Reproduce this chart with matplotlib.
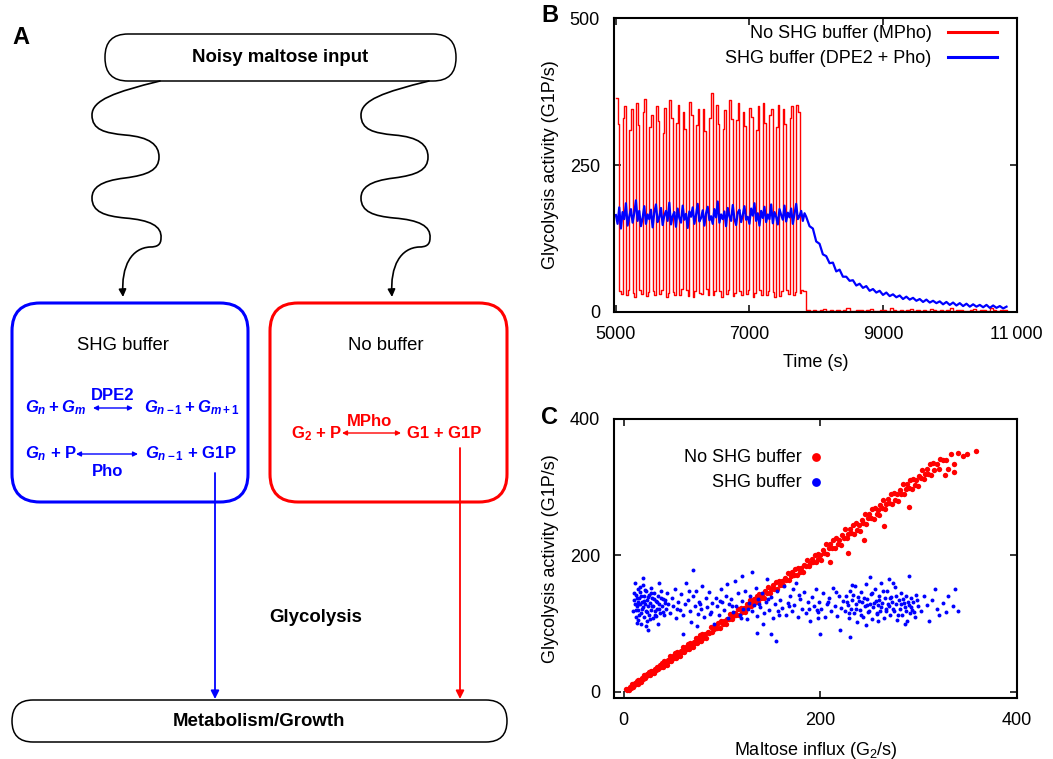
import numpy as np
import matplotlib
matplotlib.use('Agg')
import matplotlib.pyplot as plt
from matplotlib.patches import FancyBboxPatch, FancyArrowPatch
from matplotlib.path import Path

plt.rcParams['font.family'] = ['Liberation Sans', 'DejaVu Sans']
plt.rcParams['mathtext.fontset'] = 'custom'
plt.rcParams['mathtext.it'] = 'Liberation Sans:italic:bold'
plt.rcParams['mathtext.rm'] = 'Liberation Sans:bold'
plt.rcParams['mathtext.bf'] = 'Liberation Sans:bold'

# ---------------- panel B data ----------------
# red: 28 cycles of 100 s, sampled every 25 s (hi, hi, lo, lo)
red_cycles = [365, 320, 35, 30,  330, 350, 28, 38,  310, 345, 32, 26,  355, 318, 38, 30,
              340, 362, 27, 34,  315, 336, 36, 29,  350, 325, 30, 37,  305, 348, 25, 33,
              360, 330, 34, 28,  322, 352, 29, 39,  340, 312, 37, 27,  358, 335, 26, 35,
              318, 346, 33, 30,  345, 308, 39, 28,  330, 372, 28, 36,  352, 320, 35, 26,
              312, 344, 30, 38,  360, 328, 27, 32,  326, 355, 36, 29,  340, 316, 31, 37,
              348, 332, 25, 33,  310, 350, 38, 28,  356, 322, 29, 35,  335, 345, 34, 26,
              315, 352, 27, 36,  346, 320, 37, 30,  330, 350, 28, 34,  352, 340, 33, 37,
              35, 36]
red_tail = [3, 2, 4, 1, 3, 5, 2, 3, 1, 4, 2, 3, 6, 2, 1, 3, 4, 2, 3, 5,
            1, 2, 4, 3, 2, 6, 3, 1, 4, 2, 3, 5, 2, 4, 1, 3, 2, 5, 3, 2,
            4, 1, 3, 6, 2, 3, 4, 2, 1, 3, 5, 2, 3, 4, 2, 6, 3, 2, 4, 3, 2]
blue_plateau = [165, 150, 178, 142, 170, 158, 185, 147, 162, 175, 152, 168, 190, 155, 172, 146, 160, 180, 150, 166,
                158, 174, 144, 169, 183, 153, 161, 177, 148, 164, 172, 155, 186, 149, 163, 170, 145, 176, 160, 152,
                181, 157, 167, 143, 171, 162, 178, 150, 165, 184, 154, 160, 173, 147, 168, 179, 156, 163, 150, 175,
                161, 188, 152, 166, 158, 171, 146, 177, 163, 155, 182, 159, 148, 169, 174, 153, 165, 180, 157, 162,
                150, 176, 164, 185, 155, 168, 147, 172, 160, 179, 153, 166, 158, 183, 151, 170, 162, 149, 175, 165,
                157, 181, 154, 169, 161, 176, 150, 167, 184, 158, 163, 172, 155, 168]
blue_decay = [162, 146, 142, 120, 116, 98, 95, 83, 84, 69, 72, 60, 60, 53, 54, 45, 48, 41, 44, 36,
              39, 33, 36, 29, 33, 27, 30, 25, 28, 22, 26, 21, 24, 19, 22, 17, 21, 16, 19, 15,
              18, 13, 17, 12, 16, 11, 15, 10, 14, 9, 13, 9, 12, 8, 12, 7, 11, 7, 10, 6, 9]
t_fast = np.arange(5000, 7850, 25)
t_slow = np.arange(7850, 10900, 50)
b_xticks = [5000, 7000, 9000, 11000]
b_xlabels = ['5000', '7000', '9000', '11\u2009000']
b_yticks = [0, 250, 500]

# ---------------- panel C data ----------------
red_x = [2, 3, 4, 5, 6, 7, 8, 9, 10, 11, 12, 13, 14, 15, 16, 17, 18, 19, 20, 21,
         22, 23, 24, 25, 26, 27, 28, 29, 30, 31, 32, 33, 34, 35, 36, 37, 38, 39, 40, 41,
         42, 43, 44, 45, 46, 47, 48, 49, 50, 51, 52, 53, 54, 55, 56, 57, 58, 59, 60, 61,
         62, 63, 64, 65, 66, 67, 68, 69, 70, 71, 72, 73, 74, 75, 76, 77, 78, 79, 80, 81,
         83, 84, 86, 87, 89, 90, 92, 93, 95, 96, 98, 99, 101, 102, 104, 105, 107, 108, 110, 111,
         113, 114, 116, 117, 119, 120, 122, 123, 125, 126, 128, 129, 131, 132, 134, 135, 137, 138, 140, 141,
         143, 144, 146, 147, 149, 150, 152, 153, 155, 156, 158, 159, 161, 162, 164, 165, 167, 168, 170, 171,
         173, 174, 176, 177, 179, 180, 182, 183, 185, 186, 188, 189, 191, 192, 194, 195, 197, 198, 200, 201,
         203, 204, 206, 207, 209, 210, 212, 213, 215, 216, 218, 219, 221, 222, 224, 225, 227, 228, 230, 231,
         233, 234, 236, 237, 239, 240, 242, 243, 245, 246, 248, 249, 251, 252, 254, 255, 257, 258, 260, 261,
         263, 264, 266, 267, 269, 270, 272, 273, 275, 276, 278, 279, 281, 282, 284, 285, 287, 288, 290, 291,
         293, 294, 296, 297, 299, 300, 302, 303, 305, 306, 308, 309, 311, 312, 314, 315, 318, 320, 322, 325,
         328, 330, 333, 336, 340, 345, 349, 358, 336, 327, 228, 244, 210, 265, 290]
red_y = [4, 2, 4, 2, 7, 6, 11, 7, 10, 13, 11, 16, 12, 17, 14, 17, 15, 20, 19, 24,
         20, 23, 26, 24, 29, 24, 30, 27, 30, 28, 33, 32, 37, 33, 36, 39, 37, 42, 36, 45,
         40, 44, 39, 47, 45, 53, 45, 49, 53, 49, 57, 49, 58, 53, 57, 52, 60, 58, 66, 58,
         62, 66, 62, 70, 62, 71, 66, 70, 65, 73, 71, 79, 71, 75, 79, 75, 83, 75, 84, 79,
         84, 79, 88, 86, 95, 87, 92, 96, 93, 101, 94, 103, 99, 103, 99, 107, 106, 114, 107, 111,
         116, 112, 121, 113, 123, 117, 123, 117, 128, 125, 135, 125, 131, 136, 132, 141, 132, 143, 137, 142,
         137, 147, 145, 154, 145, 150, 156, 151, 161, 151, 163, 156, 162, 156, 167, 164, 174, 164, 170, 175,
         171, 180, 171, 182, 176, 181, 176, 186, 184, 193, 184, 189, 195, 190, 200, 190, 202, 195, 201, 193,
         208, 203, 217, 202, 210, 217, 211, 223, 210, 225, 216, 223, 215, 229, 225, 238, 225, 231, 239, 232,
         245, 231, 247, 237, 245, 236, 251, 247, 260, 246, 254, 260, 254, 267, 253, 269, 260, 266, 259, 273,
         269, 281, 268, 275, 283, 276, 289, 275, 291, 281, 289, 280, 295, 290, 304, 290, 297, 304, 298, 310,
         297, 312, 303, 310, 302, 316, 313, 325, 312, 319, 327, 319, 333, 318, 335, 325, 334, 326, 341, 339,
         340, 326, 348, 333, 350, 345, 348, 352, 322, 318, 203, 222, 190, 243, 270]
blue_x = [9, 10, 11, 12, 12, 13, 14, 14, 15, 15, 16, 17, 17, 18, 18, 19, 20, 20, 21, 21,
          22, 23, 23, 24, 24, 25, 26, 26, 27, 28, 28, 29, 30, 30, 31, 32, 33, 34, 35, 35,
          36, 37, 38, 39, 40, 41, 42, 43, 44, 45, 20, 11, 36, 25,
          10, 12, 13, 15, 16, 18, 19, 21, 22, 24, 25, 27, 29, 31, 32, 34, 36, 38, 40, 42,
          13, 17, 23, 28, 33,
          47, 49, 50, 52, 53, 55, 57, 58, 60, 62, 63, 65, 67, 68, 70, 72, 73, 75, 77, 79,
          80, 82, 84, 85, 87, 89, 90, 92, 94, 95, 97, 99, 100, 102, 104, 106, 107, 109, 111, 113,
          114, 116, 118, 120, 121, 123, 125, 127, 128, 130, 132, 134, 135, 137, 139, 141, 143, 145, 146, 148,
          150, 152, 154, 156, 157, 159, 161, 163, 165, 167, 169, 171, 173, 175, 177, 179, 181, 183, 185, 187,
          189, 191, 193, 195, 197, 199, 201, 203, 205, 207, 209, 211, 213, 215, 217, 219, 221, 223,
          54, 66, 78, 88, 98, 110, 119, 126, 138, 147, 158, 168, 178, 188, 198, 208, 216, 74, 105, 142,
          172, 196,
          60, 135, 155, 150, 70, 130, 120, 230,
          225, 226, 228, 229, 230, 231, 232, 234, 235, 236, 237, 238, 240, 241, 242, 243, 245, 246, 247, 248,
          250, 251, 252, 253, 255, 256, 257, 258, 260, 261, 262, 263, 265, 266, 267, 268, 270, 271, 272, 273,
          275, 276, 277, 278, 280, 281, 282, 283, 285, 286, 287, 288, 290, 291, 292, 293, 294, 296, 297, 299,
          227, 229, 233, 236, 239, 241, 244, 247, 249, 252, 254, 257, 259, 262, 264, 267, 269, 271, 274, 277,
          279, 282, 284, 287, 289, 292, 295, 298, 232, 246, 258, 274, 286,
          302, 305, 308, 310, 313, 316, 318, 321, 325, 328, 330, 335, 337, 340,
          220, 250, 270, 290, 200]
blue_y = [118, 135, 128, 142, 110, 125, 150, 132, 105, 120, 138, 128, 146, 115, 99, 132, 124, 156, 110, 140,
          128, 118, 148, 135, 104, 126, 142, 113, 130, 120, 152, 137, 108, 126, 145, 118, 133, 122, 140, 100,
          128, 115, 148, 126, 136, 112, 130, 121, 144, 129, 167, 160, 160, 90,
          145, 120, 137, 128, 112, 141, 122, 133, 149, 117, 139, 107, 125, 136, 113, 131, 121, 138, 117, 134,
          101, 153, 97, 145, 111,
          115, 138, 125, 150, 108, 131, 120, 143, 112, 128, 160, 135, 118, 102, 140, 126, 148, 114, 132, 121,
          155, 109, 137, 124, 146, 117, 130, 99, 138, 126, 113, 150, 131, 120, 141, 108, 128, 136, 117, 162,
          125, 145, 112, 133, 122, 148, 107, 130, 140, 118, 127, 152, 111, 136, 124, 145, 115, 131, 165, 120,
          139, 108, 128, 148, 118, 134, 123, 155, 112, 130, 141, 119, 127, 160, 110, 136, 122, 146, 115, 131,
          104, 139, 125, 150, 117, 132, 121, 144, 109, 128, 137, 118, 152, 126, 111, 140, 123, 133,
          122, 147, 128, 114, 133, 126, 108, 121, 129, 136, 113, 126, 142, 121, 108, 131, 146, 96, 158, 100,
          150, 120,
          85, 86, 75, 85, 178, 175, 170, 80,
          118, 140, 127, 108, 148, 122, 134, 115, 155, 128, 102, 139, 120, 146, 131, 110, 125, 158, 136, 117,
          129, 143, 106, 124, 150, 133, 114, 127, 141, 119, 160, 130, 108, 137, 122, 148, 126, 113, 139, 131,
          118, 154, 128, 105, 135, 121, 145, 112, 130, 124, 140, 103, 127, 115, 137, 120, 131, 110, 142, 125,
          131, 115, 142, 121, 133, 112, 138, 127, 119, 145, 130, 116, 134, 124, 148, 118, 129, 137, 122, 141,
          113, 128, 136, 119, 132, 124, 117, 135, 157, 98, 104, 160, 100,
          118, 140, 127, 103, 135, 150, 121, 112, 130, 117, 140, 125, 150, 118,
          90, 168, 165, 170, 85]
c_ticks = [0, 200, 400]

fig = plt.figure(figsize=(10.53, 7.59), dpi=100)

# ---------------- panel A: schematic, drawn in pixel coordinates ----------------
ax0 = fig.add_axes([0, 0, 1, 1])
ax0.set_xlim(0, 1053)
ax0.set_ylim(759, 0)
ax0.axis('off')

def pill(x0, y0, x1, y1, r, color='black', lw=1.1):
    ax0.add_patch(FancyBboxPatch((x0, y0), x1 - x0, y1 - y0,
                                 boxstyle=f'round,pad=0,rounding_size={r}',
                                 fc='none', ec=color, lw=lw))

pill(105, 34, 456, 81, 23)
pill(12, 700, 507, 742, 21)
pill(12, 303, 248, 502, 28, 'blue', 2.2)
pill(270, 303, 507, 502, 28, 'red', 2.2)

ax0.text(21, 37, 'A', fontsize=17, fontweight='bold', ha='center', va='center')
ax0.text(280, 57, 'Noisy maltose input', fontsize=13.4, fontweight='bold', ha='center', va='center')
ax0.text(259, 722, 'Metabolism/Growth', fontsize=13.4, fontweight='bold', ha='center', va='center')
ax0.text(316, 618, 'Glycolysis', fontsize=13.4, fontweight='bold', ha='center', va='center')
ax0.text(123, 345, 'SHG buffer', fontsize=13.3, ha='center', va='center')
ax0.text(386, 345, 'No buffer', fontsize=13.3, ha='center', va='center')

# wavy input arrows
wave = [(160, 81),
        (115, 92), (92, 100), (92, 115),
        (92, 130), (105, 133), (125, 135),
        (150, 137), (159, 145), (159, 157),
        (159, 170), (148, 175), (125, 178),
        (100, 181), (92, 188), (92, 198),
        (92, 212), (105, 216), (125, 218),
        (150, 220), (162, 226), (161, 238),
        (161, 245), (157, 247), (150, 247),
        (132, 248), (121, 265), (123, 297)]
codes = [Path.MOVETO] + [Path.CURVE4] * (len(wave) - 1)
for dx in (0, 269):
    verts = [(x + dx, y) for x, y in wave]
    ax0.add_patch(FancyArrowPatch(path=Path(verts, codes), arrowstyle='-|>',
                                  mutation_scale=11, lw=1.2, color='black',
                                  shrinkA=0, shrinkB=0))

def arrow(x0, y0, x1, y1, color, style, ms, lw=1.0):
    ax0.add_patch(FancyArrowPatch((x0, y0), (x1, y1), arrowstyle=style,
                                  mutation_scale=ms, lw=lw, color=color,
                                  shrinkA=0, shrinkB=0))

# SHG buffer reactions
bk = dict(fontsize=12, color='blue', fontweight='bold', va='center')
ax0.text(25, 408, r'$G_n + G_m$', ha='left', **bk)
ax0.text(113, 395, 'DPE2', ha='center', **bk)
arrow(93, 408, 133, 408, 'blue', '<|-|>', 7)
ax0.text(144, 408, r'$G_{n-1} + G_{m+1}$', ha='left', **bk)
ax0.text(25, 454, r'$G_n$ + P', ha='left', **bk)
arrow(76, 454, 138, 454, 'blue', '<|-|>', 7)
ax0.text(108, 471, 'Pho', ha='center', **bk)
ax0.text(145, 454, r'$G_{n-1}$ + G1P', ha='left', **bk)

# no buffer reaction
rk = dict(fontsize=12, color='red', fontweight='bold', va='center')
ax0.text(291, 434, r'G$_\mathregular{2}$ + P', ha='left', **rk)
arrow(342, 433, 401, 433, 'red', '<|-|>', 7)
ax0.text(370, 421, 'MPho', ha='center', **rk)
ax0.text(407, 433, 'G1 + G1P', ha='left', **rk)

arrow(215, 473, 215, 699, 'blue', '-|>', 12, 1.3)
arrow(460, 448, 460, 699, 'red', '-|>', 12, 1.3)

ax0.text(550, 16, 'B', fontsize=17, fontweight='bold', ha='center', va='center')
ax0.text(550, 417, 'C', fontsize=17, fontweight='bold', ha='center', va='center')

# ---------------- panel B ----------------
axb = fig.add_axes([0.583, 0.589, 0.383, 0.387])
red_t = np.concatenate([t_fast, t_slow])
red_v = np.array(red_cycles + red_tail)
blue_t = np.concatenate([t_fast, t_slow])
blue_v = np.array(blue_plateau + blue_decay)
axb.plot(red_t, red_v, color='red', lw=1.0, drawstyle='steps-post',
         label='No SHG buffer (MPho)')
axb.plot(blue_t, blue_v, color='blue', lw=1.6, label='SHG buffer (DPE2 + Pho)')
axb.set_xlim(4970, 11010)
axb.set_ylim(0, 500)
axb.set_xticks(b_xticks)
axb.set_xticklabels(b_xlabels)
axb.set_yticks(b_yticks)
axb.set_xlabel('Time (s)', fontsize=13, labelpad=8)
axb.set_ylabel('Glycolysis activity (G1P/s)', fontsize=13, labelpad=8)
leg = axb.legend(loc='upper right', frameon=False, markerfirst=False, fontsize=13,
                 handlelength=2.7, handletextpad=0.9, labelspacing=0.45,
                 borderaxespad=0.4, bbox_to_anchor=(0.985, 1.025))
for h in leg.get_lines():
    h.set_linewidth(2.2)

# ---------------- panel C ----------------
axc = fig.add_axes([0.583, 0.0804, 0.383, 0.368])
axc.scatter(red_x, red_y, s=15, color='red', lw=0, label='No SHG buffer')
axc.scatter(blue_x, blue_y, s=8, color='blue', lw=0, label='SHG buffer')
axc.set_xlim(-10, 400)
axc.set_ylim(-9, 400)
axc.set_xticks(c_ticks)
axc.set_yticks(c_ticks)
axc.set_xlabel(r'Maltose influx (G$_\mathregular{2}$/s)', fontsize=13, labelpad=8)
axc.set_ylabel('Glycolysis activity (G1P/s)', fontsize=13, labelpad=8)
lc = axc.legend(loc='upper right', frameon=False, markerfirst=False, fontsize=13,
                handlelength=1.0, handletextpad=0.3, labelspacing=0.45,
                bbox_to_anchor=(0.565, 0.95))
for h in lc.legend_handles:
    h.set_sizes([40])

for ax in (axb, axc):
    ax.tick_params(direction='in', length=5, width=1.1, top=True, right=True,
                   labelsize=13, pad=10)
    for sp in ax.spines.values():
        sp.set_linewidth(1.5)

fig.savefig('out.png', dpi=100)
